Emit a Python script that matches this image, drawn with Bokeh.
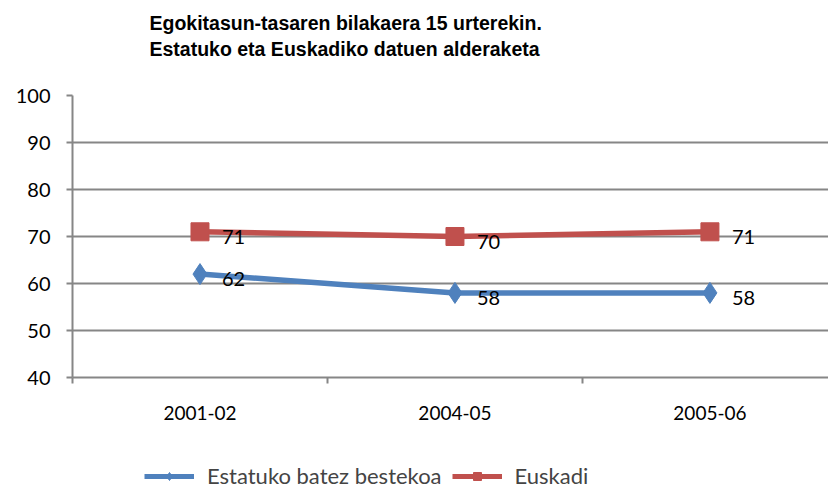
from bokeh.plotting import figure
from bokeh.layouts import column
from bokeh.models import FixedTicker, Legend, LegendItem, ColumnDataSource, Range1d, Label
from bokeh.core.properties import value
from bokeh.embed import file_html
from bokeh.resources import INLINE

title_lines = ["Egokitasun-tasaren bilakaera 15 urterekin.",
               "Estatuko eta Euskadiko datuen alderaketa"]
categories = ["2001-02", "2004-05", "2005-06"]
estatuko = [62, 58, 58]
euskadi = [71, 70, 71]
y_ticks = [40, 50, 60, 70, 80, 90, 100]
series_names = ["Estatuko batez bestekoa", "Euskadi"]

BLUE = "#4F81BD"
RED = "#C0504D"
GRID = "#868686"
FONT = "Lato"

xs = list(range(len(categories)))

# ---- title strip ----
tf = figure(width=828, height=83, output_backend="svg", toolbar_location=None,
            x_axis_location=None, y_axis_location=None,
            x_range=Range1d(0, 1), y_range=Range1d(0, 1),
            min_border_left=0, min_border_right=0, min_border_top=0, min_border_bottom=0)
tf.grid.visible = False
tf.outline_line_color = None
for txt, yy in ((title_lines[0], 61), (title_lines[1], 35)):
    tf.add_layout(Label(x=77, y=yy, x_units="screen", y_units="screen", text=txt,
                        text_font="Liberation Sans", text_font_size="19.5px",
                        text_font_style="bold", text_color="black",
                        text_baseline="middle", text_align="left"))

# ---- main chart ----
p = figure(width=828, height=372, output_backend="svg", toolbar_location=None,
           x_range=Range1d(-0.5, 2.465), y_range=Range1d(40, 100),
           min_border_left=72, min_border_right=0, min_border_top=12, min_border_bottom=78)
p.title = None
p.outline_line_color = None
p.background_fill_color = "white"
p.border_fill_color = "white"

p.xgrid.grid_line_color = None
p.ygrid.grid_line_color = GRID
p.ygrid.grid_line_width = 2
p.ygrid.ticker = FixedTicker(ticks=y_ticks)

p.yaxis.ticker = FixedTicker(ticks=y_ticks)
p.yaxis.axis_line_color = GRID
p.yaxis.axis_line_width = 2
p.yaxis.major_tick_line_color = GRID
p.yaxis.major_tick_line_width = 2
p.yaxis.major_tick_out = 6
p.yaxis.major_tick_in = 0
p.yaxis.minor_tick_line_color = None
p.yaxis.major_label_text_font = FONT
p.yaxis.major_label_text_font_size = "20px"
p.yaxis.major_label_text_color = "black"
p.yaxis.major_label_standoff = 16

p.xaxis.ticker = FixedTicker(ticks=xs, minor_ticks=[-0.5, 0.5, 1.5, 2.5])
p.xaxis.major_label_overrides = {i: c for i, c in enumerate(categories)}
p.xaxis.axis_line_color = GRID
p.xaxis.axis_line_width = 2
p.xaxis.major_tick_line_color = None
p.xaxis.minor_tick_line_color = GRID
p.xaxis.minor_tick_line_width = 2
p.xaxis.minor_tick_out = 6
p.xaxis.minor_tick_in = 0
p.xaxis.major_label_text_font = FONT
p.xaxis.major_label_text_font_size = "19px"
p.xaxis.major_label_text_color = "black"
p.xaxis.major_label_standoff = 22

src_a = ColumnDataSource(dict(x=xs, y=estatuko, t=[str(v) for v in estatuko]))
src_b = ColumnDataSource(dict(x=xs, y=euskadi, t=[str(v) for v in euskadi]))

p.line("x", "y", source=src_a, line_color=BLUE, line_width=5.5)
p.scatter("x", "y", source=src_a, marker="diamond", size=21, fill_color=BLUE, line_color=BLUE)
p.line("x", "y", source=src_b, line_color=RED, line_width=5.5)
p.scatter("x", "y", source=src_b, marker="square", size=18, fill_color=RED, line_color=RED)

for src in (src_a, src_b):
    p.text("x", "y", text="t", source=src, x_offset=22, y_offset=5,
           text_font=value(FONT), text_font_size="20px", text_color="black",
           text_baseline="middle", text_align="left")

# ---- legend strip (the series are drawn here outside the visible range) ----
lf = figure(width=828, height=35, output_backend="svg", toolbar_location=None,
            x_axis_location=None, y_axis_location=None,
            x_range=Range1d(-100, -99), y_range=Range1d(-100, -99),
            min_border_left=0, min_border_right=0, min_border_top=0, min_border_bottom=0)
lf.grid.visible = False
lf.outline_line_color = None
la = lf.line("x", "y", source=src_a, line_color=BLUE, line_width=5)
ma = lf.scatter("x", "y", source=src_a, marker="diamond", size=16, fill_color=BLUE, line_color=BLUE)
lb = lf.line("x", "y", source=src_b, line_color=RED, line_width=5)
mb = lf.scatter("x", "y", source=src_b, marker="square", size=15, fill_color=RED, line_color=RED)

legend = Legend(items=[LegendItem(label=series_names[0], renderers=[la, ma]),
                       LegendItem(label=series_names[1], renderers=[lb, mb])],
                orientation="horizontal", location=(72, 1),
                glyph_width=50, glyph_height=20, label_text_font=FONT,
                label_text_font_size="22px", label_standoff=13, spacing=10,
                border_line_color=None, background_fill_alpha=0, padding=0, margin=0)
lf.add_layout(legend, "center")

layout = column(tf, p, lf, spacing=0)
open("out.html", "w").write(file_html(layout, INLINE))
